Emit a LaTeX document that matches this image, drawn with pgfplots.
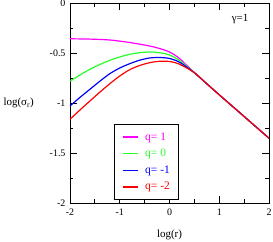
\documentclass[border=0pt]{standalone}
\usepackage{fontspec}
\setmainfont{Liberation Serif}
\usepackage{pgfplots}
\pgfplotsset{compat=1.18}
\definecolor{cmag}{RGB}{255,0,255}
\definecolor{cgreen}{RGB}{40,255,40}
\definecolor{cblue}{RGB}{0,0,255}
\definecolor{cred}{RGB}{255,0,0}
\begin{document}
\begin{tikzpicture}
\begin{axis}[
  at={(0,0)}, anchor=south west,
  scale only axis, width=199bp, height=200bp,
  xmin=-2, xmax=2, ymin=-2, ymax=0,
  xtick={-2,-1,0,1,2}, xticklabels={-2,-1,0,1,2},
  ytick={-2,-1.5,-1,-0.5,0}, yticklabels={-2,-1.5,-1,-0.5,0},
  minor x tick num=1, minor y tick num=1,
  tick align=inside, tick pos=both,
  major tick length=7bp, minor tick length=3.5bp,
  tick style={black, line width=0.9pt},
  axis line style={line width=0.9pt},
  ticklabel style={font=\fontsize{10}{11}\selectfont},
  xticklabel style={yshift=-2bp},
  yticklabel style={xshift=-1bp},
  legend style={at={(rel axis cs:0.222,0.395)}, anchor=north west,
    draw=black, line width=1.3pt, font=\fontsize{11.5}{12}\selectfont,
    inner xsep=7bp, inner ysep=6bp, row sep=3.5bp},
  legend image code/.code={\draw[#1, sharp plot, line width=1.4pt] (0bp,0bp) -- (15bp,0bp);},
  legend cell align=left,
  every axis plot/.append style={line width=1.2pt, no markers},
]
\addplot[cmag, smooth] coordinates {(-2,-0.358) (-1.6,-0.361) (-1.2,-0.370) (-0.8,-0.395) (-0.4,-0.430) (-0.2,-0.455) (0,-0.490) (0.2,-0.555) (0.5,-0.697) (0.75,-0.808) (1,-0.918) (1.5,-1.135) (2,-1.352)};
\addlegendentry{\hspace{5bp}\textcolor{cmag}{q= 1}}
\addplot[cgreen, smooth] coordinates {(-2,-0.782) (-1.8,-0.720) (-1.6,-0.663) (-1.4,-0.615) (-1.2,-0.573) (-1.0,-0.540) (-0.8,-0.513) (-0.6,-0.497) (-0.4,-0.490) (-0.2,-0.497) (0,-0.520) (0.2,-0.575) (0.5,-0.697) (0.75,-0.808) (1,-0.918) (1.5,-1.135) (2,-1.352)};
\addlegendentry{\hspace{5bp}\textcolor{cgreen}{q= 0}}
\addplot[cblue, smooth] coordinates {(-2,-1.030) (-1.8,-0.944) (-1.6,-0.863) (-1.4,-0.782) (-1.2,-0.707) (-1.0,-0.650) (-0.8,-0.607) (-0.6,-0.572) (-0.4,-0.550) (-0.2,-0.545) (0,-0.555) (0.2,-0.592) (0.5,-0.697) (0.75,-0.808) (1,-0.918) (1.5,-1.135) (2,-1.352)};
\addlegendentry{\hspace{5bp}\textcolor{cblue}{q= -1}}
\addplot[cred, smooth] coordinates {(-2,-1.163) (-1.8,-1.070) (-1.6,-0.980) (-1.4,-0.892) (-1.2,-0.807) (-1.0,-0.730) (-0.8,-0.667) (-0.6,-0.625) (-0.4,-0.597) (-0.2,-0.583) (0,-0.585) (0.2,-0.612) (0.5,-0.697) (0.75,-0.808) (1,-0.918) (1.5,-1.135) (2,-1.352)};
\addlegendentry{\hspace{5bp}\textcolor{cred}{q= -2}}
\node[font=\fontsize{11}{12}\selectfont] at (axis cs:1.42,-0.16) {γ=1};
\end{axis}
\node[font=\fontsize{11}{12}\selectfont, anchor=west] at (-70bp,100bp) {log(σ\textsubscript{r})};
\node[font=\fontsize{11}{12}\selectfont] at (99.5bp,-32bp) {log(r)};
\pgfresetboundingbox
\path[use as bounding box] (-70bp,-39bp) rectangle (203bp,203bp);
\end{tikzpicture}
\end{document}
